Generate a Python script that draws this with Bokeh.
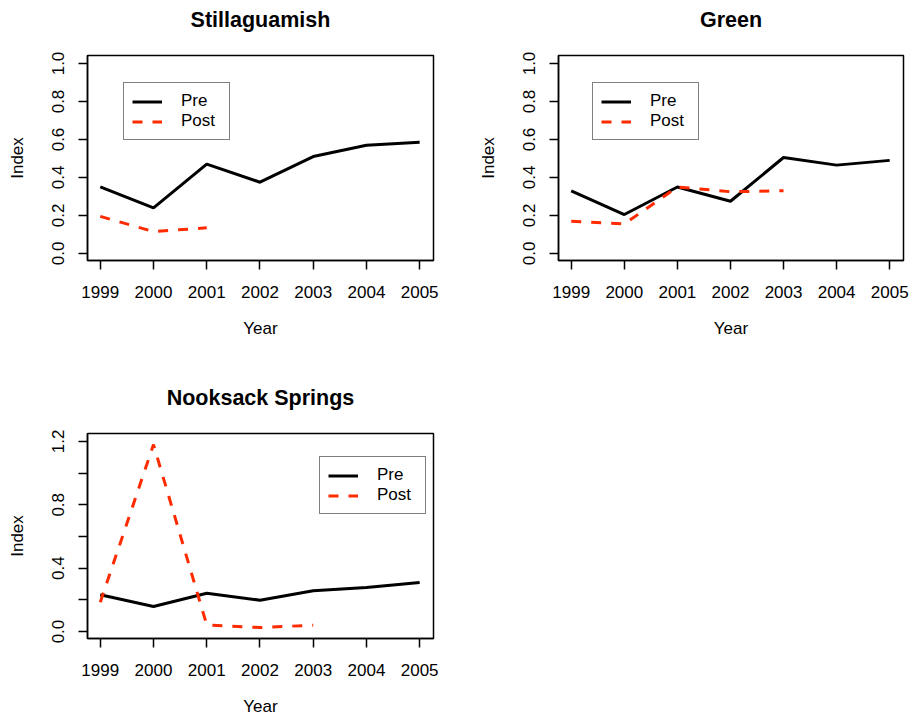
from bokeh.plotting import figure
from bokeh.layouts import column, row
from bokeh.models import FixedTicker, PrintfTickFormatter, CustomJSTickFormatter, Range1d, Title
from bokeh.embed import file_html
from bokeh.resources import INLINE

# ---- data ----
years = [1999, 2000, 2001, 2002, 2003, 2004, 2005]

still_pre = [0.35, 0.24, 0.47, 0.375, 0.51, 0.57, 0.585]
still_post_years = [1999, 2000, 2001]
still_post = [0.195, 0.115, 0.135]

green_pre = [0.33, 0.205, 0.35, 0.275, 0.505, 0.465, 0.49]
green_post_years = [1999, 2000, 2001, 2002, 2003]
green_post = [0.17, 0.155, 0.35, 0.325, 0.33]

nook_pre = [0.232, 0.158, 0.242, 0.198, 0.257, 0.278, 0.309]
nook_post_years = [1999, 2000, 2001, 2002, 2003]
nook_post = [0.185, 1.18, 0.042, 0.025, 0.04]

titles = ["Stillaguamish", "Green", "Nooksack Springs"]
y_ticks_a = [0.0, 0.2, 0.4, 0.6, 0.8, 1.0]
y_ticks_b = [0.0, 0.2, 0.4, 0.6, 0.8, 1.0, 1.2]

FONT = "Liberation Sans"
RED = "#ff2a00"
FH = 205


def make_panel(title, pre, post_x, post, yr, yticks, border, legend_loc, formatter, gap):
    left, right, top, bottom = border
    fw = 346 if left < 100 else 345
    p = figure(frame_width=fw, frame_height=FH,
               min_border_left=left, min_border_right=right,
               min_border_top=top, min_border_bottom=bottom,
               x_range=Range1d(1998.76, 2005.26), y_range=Range1d(*yr),
               output_backend="svg", toolbar_location=None,
               background_fill_color="white", border_fill_color="white")
    # spacer between frame and title, then the title itself
    p.add_layout(Title(text=" ", text_font_size="1px", standoff=gap), "above")
    p.add_layout(Title(text=title, text_font=FONT, text_font_size="21.5px",
                       text_font_style="bold", text_color="black",
                       align="center", standoff=9), "above")

    p.line(years, pre, line_color="black", line_width=3, legend_label="Pre")
    p.line(post_x, post, line_color=RED, line_width=3, line_dash="10 10",
           legend_label="Post")

    p.xgrid.visible = False
    p.ygrid.visible = False
    p.outline_line_color = "black"
    p.outline_line_width = 1.5

    for ax in (p.xaxis[0], p.yaxis[0]):
        ax.axis_line_width = 1.5
        ax.major_tick_line_width = 1.5
        ax.major_tick_out = 9
        ax.major_tick_in = 0
        ax.minor_tick_out = 0
        ax.minor_tick_in = 0
        ax.major_label_text_font = FONT
        ax.major_label_text_font_size = "17px"
        ax.major_label_text_color = "black"
        ax.axis_label_text_font = FONT
        ax.axis_label_text_font_size = "17px"
        ax.axis_label_text_font_style = "normal"
        ax.axis_label_text_color = "black"

    p.xaxis.ticker = FixedTicker(ticks=years)
    p.xaxis.axis_label = "Year"
    p.xaxis.major_label_standoff = 16
    p.xaxis.axis_label_standoff = 18

    p.yaxis.ticker = FixedTicker(ticks=yticks)
    p.yaxis.formatter = formatter
    p.yaxis.major_label_orientation = "vertical"
    p.yaxis.axis_label = "Index"
    p.yaxis.major_label_standoff = 14
    p.yaxis.axis_label_standoff = 23

    lg = p.legend[0]
    lg.location = legend_loc
    lg.border_line_color = "black"
    lg.border_line_width = 1.5
    lg.background_fill_color = "white"
    lg.background_fill_alpha = 1
    lg.label_text_font = FONT
    lg.label_text_font_size = "17px"
    lg.label_text_color = "black"
    lg.glyph_width = 30
    lg.glyph_height = 19
    lg.label_height = 19
    lg.label_width = 40
    lg.label_standoff = 19
    lg.padding = 8
    lg.spacing = 0
    lg.margin = 0
    return p


p1 = make_panel(titles[0], still_pre, still_post_years, still_post,
                (-0.037, 1.042), y_ticks_a, (87, 22, 55, 110), (36, 120),
                PrintfTickFormatter(format="%.1f"), 16)
p2 = make_panel(titles[1], green_pre, green_post_years, green_post,
                (-0.037, 1.042), y_ticks_a, (103, 7, 55, 110), (34, 120),
                PrintfTickFormatter(format="%.1f"), 16)
p3 = make_panel(titles[2], nook_pre, nook_post_years, nook_post,
                (-0.044, 1.25), y_ticks_b, (87, 22, 63, 79), (232, 124),
                CustomJSTickFormatter(code="return (Math.round(tick*10) % 4 == 0) ? tick.toFixed(1) : '';"), 16)

layout = column(row(p1, p2), row(p3))
open("out.html", "w").write(file_html(layout, INLINE))
